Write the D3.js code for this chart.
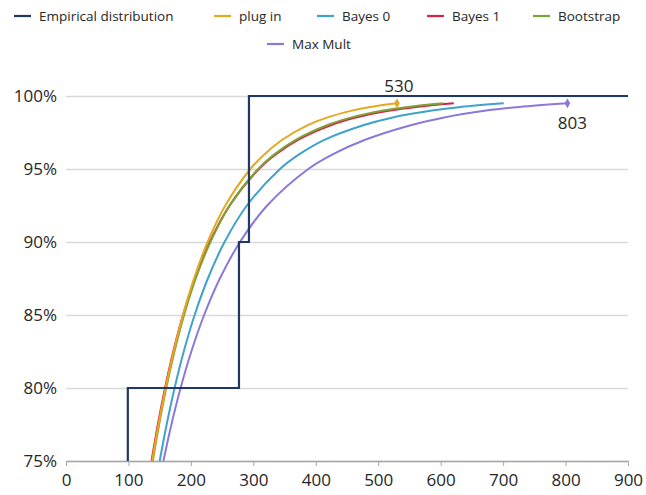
<!DOCTYPE html>
<html>
<head>
<meta charset="utf-8">
<script src="https://cdn.jsdelivr.net/npm/d3@7"></script>
<style>
  body { margin: 0; background: #fff; }
  text { font-family: "Open Sans", sans-serif; fill: #262626; }
</style>
</head>
<body>
<div id="chart"></div>
<script>
// Values
const seriesNames = ["Empirical distribution", "plug in", "Bayes 0", "Bayes 1", "Bootstrap", "Max Mult"];
const seriesColors = ["#203864", "#E5A823", "#3FA3C9", "#DC1F45", "#7AA437", "#8C78DC"];

// empirical step function: jump locations and the level after each jump
const empJumps = [99, 277, 293];
const empLevels = [0.80, 0.90, 1.00];

// the fitted curves are read at the same probability levels
const levels = [0.75, 0.775, 0.80, 0.825, 0.85, 0.875, 0.90, 0.925, 0.95, 0.96, 0.97, 0.98, 0.985, 0.99, 0.9925, 0.995];

const plugX = [138, 148.1, 159.5, 172.4, 187.3, 205.0, 226.8, 255.1, 295.2, 317.5, 346.3, 387.2, 416.4, 457.9, 487.5, 530];
const bayes0X = [150, 161.2, 173.9, 188.6, 206.0, 227.2, 253.9, 289.7, 342.7, 373.2, 413.8, 476, 520, 586, 632, 701];
const bayes1X = [137, 147.1, 158.6, 171.8, 187.4, 206.4, 230.2, 262.0, 308.9, 335.8, 371.5, 423.8, 462.4, 518.9, 560.5, 621];
const bootX = [139, 149.1, 160.5, 173.7, 189.1, 207.8, 231.2, 262.2, 307.7, 333.6, 367.9, 417.9, 454.6, 508.0, 547.1, 604];
const maxMultX = [156, 168.8, 183.5, 200.7, 221.2, 246.4, 278.6, 322.2, 388, 427, 479, 552, 602, 673, 726, 803];

const xTicks = [0, 100, 200, 300, 400, 500, 600, 700, 800, 900];
const yTicks = [0.75, 0.80, 0.85, 0.90, 0.95, 1.00];

const width = 646, height = 495;
const margin = {top: 96, right: 18, bottom: 34, left: 66};

const svg = d3.select("#chart").append("svg")
  .attr("width", width)
  .attr("height", height);

svg.append("rect").attr("width", width).attr("height", height).attr("fill", "#fff");

const xscale = d3.scaleLinear()
  .domain([0, 900])
  .range([margin.left, width - margin.right]);

const yscale = d3.scaleLinear()
  .domain([0.75, 1])
  .range([height - margin.bottom, margin.top]);

// gridlines + y labels
const yAxis = g => g
  .attr("transform", `translate(${margin.left},0)`)
  .call(d3.axisLeft(yscale)
    .tickValues(yTicks)
    .tickFormat(d3.format(".0%"))
    .tickSize(-(width - margin.left - margin.right))
    .tickPadding(9))
  .call(g => g.select(".domain").remove())
  .call(g => g.selectAll(".tick line").attr("stroke", "#d9d9d9").attr("stroke-width", 1.3))
  .call(g => g.selectAll(".tick text").attr("font-size", 17).attr("font-family", "Open Sans").attr("fill", "#262626"));

const xAxis = g => g
  .attr("transform", `translate(0,${height - margin.bottom})`)
  .call(d3.axisBottom(xscale)
    .tickValues(xTicks)
    .tickFormat(d3.format("d"))
    .tickSize(5)
    .tickSizeOuter(0)
    .tickPadding(8))
  .call(g => g.select(".domain").attr("stroke", "#a6a6a6").attr("stroke-width", 1.3))
  .call(g => g.selectAll(".tick line").attr("stroke", "#a6a6a6"))
  .call(g => g.selectAll(".tick text").attr("font-size", 17).attr("font-family", "Open Sans").attr("fill", "#262626"));

svg.append("g").call(yAxis);
svg.append("g").call(xAxis);

// empirical step line: start on the bottom axis, then one step per jump, run out to 900
const empPoints = [{x: empJumps[0], y: yscale.domain()[0]}];
empLevels.forEach((lvl, i) => {
  const nextX = i + 1 < empJumps.length ? empJumps[i + 1] : xscale.domain()[1];
  empPoints.push({x: nextX, y: lvl});
});
const stepLine = d3.line()
  .curve(d3.curveStepBefore)
  .x(d => xscale(d.x))
  .y(d => yscale(d.y));

// smooth fitted curves
const modelLine = d3.line()
  .curve(d3.curveCatmullRom.alpha(0.5))
  .x(d => xscale(d.x))
  .y(d => yscale(d.y));

const toPoints = xs => xs.map((x, i) => ({x: x, y: levels[i]}));

const curves = [
  {name: "Max Mult", pts: toPoints(maxMultX), color: seriesColors[5]},
  {name: "Bayes 0", pts: toPoints(bayes0X), color: seriesColors[2]},
  {name: "Bayes 1", pts: toPoints(bayes1X), color: seriesColors[3]},
  {name: "Bootstrap", pts: toPoints(bootX), color: seriesColors[4]},
  {name: "plug in", pts: toPoints(plugX), color: seriesColors[1]}
];

svg.append("g")
  .attr("fill", "none")
  .attr("stroke-width", 2)
  .selectAll("path")
  .data(curves)
  .join("path")
  .attr("stroke", d => d.color)
  .attr("d", d => modelLine(d.pts));

svg.append("path")
  .attr("fill", "none")
  .attr("stroke", seriesColors[0])
  .attr("stroke-width", 2.2)
  .attr("d", stepLine(empPoints));

// end markers and labels
const marked = [
  {pts: curves[4].pts, color: seriesColors[1], label: "530", dx: 2, dy: -11},
  {pts: curves[0].pts, color: seriesColors[5], label: "803", dx: 5, dy: 26}
];
const diamond = d3.symbol().type(d3.symbolDiamond).size(28);
marked.forEach(m => {
  const last = m.pts[m.pts.length - 1];
  svg.append("path")
    .attr("d", diamond())
    .attr("fill", m.color)
    .attr("transform", `translate(${xscale(last.x)},${yscale(last.y)})`);
  svg.append("text")
    .attr("x", xscale(last.x) + m.dx)
    .attr("y", yscale(last.y) + m.dy)
    .attr("text-anchor", "middle")
    .attr("font-size", 17)
    .text(m.label);
});

// legend
const legendPos = [[39, 21], [239, 21], [342, 21], [452, 21], [558, 21], [292, 49]];
const legend = svg.append("g").attr("font-size", 13.5);
seriesNames.forEach((name, i) => {
  const [lx, ly] = legendPos[i];
  legend.append("line")
    .attr("x1", lx - 25).attr("x2", lx - 8)
    .attr("y1", ly - 5).attr("y2", ly - 5)
    .attr("stroke", seriesColors[i])
    .attr("stroke-width", 2.2);
  legend.append("text")
    .attr("x", lx)
    .attr("y", ly)
    .text(name);
});
</script>
</body>
</html>
